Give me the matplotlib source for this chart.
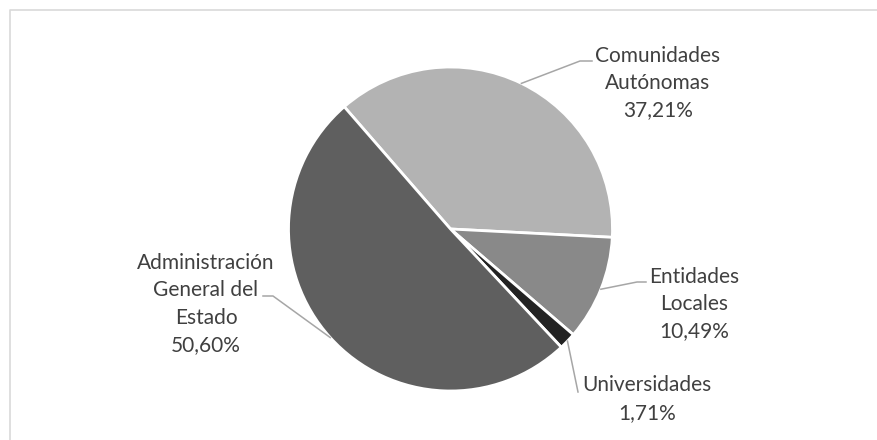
import numpy as np
import matplotlib.pyplot as plt

labels = ['Comunidades\nAutónomas', 'Entidades\nLocales', 'Universidades', 'Administración\nGeneral del\nEstado']
values = [37.21, 10.49, 1.71, 50.60]
pct_text = ['37,21%', '10,49%', '1,71%', '50,60%']
colors = ['#b3b3b3', '#898989', '#232323', '#5f5f5f']

H = 440
cx, cy, r = 450.5, H - 229, 162
start = 131

# elbow point, end of horizontal, text centre (pixel coords, y from top)
elbows = [(580, 61, 592), (637, 282, 646), (578, 392, 578), (273, 296, 263)]
text_pos = [(658, 83), (694, 304), (647, 399), (206, 304)]

fig = plt.figure(figsize=(8.78, 4.4), dpi=100)
ax = fig.add_axes([0, 0, 1, 1])

# frame
ax.plot([10, 10, 878], [0, H - 10, H - 10], color='#d9d9d9', lw=1.2)

wedges, _ = ax.pie(values, colors=colors, startangle=start, counterclock=False,
                   center=(cx, cy), radius=r, frame=True,
                   wedgeprops=dict(edgecolor='white', linewidth=2))
ax.set_xlim(0, 878)
ax.set_ylim(0, H)
ax.set_aspect('equal')
ax.axis('off')

for w, lab, pct, (ex, ey, hx), (tx, ty) in zip(wedges, labels, pct_text, elbows, text_pos):
    mid = np.deg2rad((w.theta1 + w.theta2) / 2)
    sx = cx + r * np.cos(mid)
    sy = cy + r * np.sin(mid)
    ax.plot([sx, ex, hx], [sy, H - ey, H - ey], color='#a6a6a6', lw=1.1)
    ax.text(tx, H - ty, lab + '\n' + pct, ha='center', va='center', ma='center',
            fontsize=15, family='Lato', color='#404040', linespacing=1.45)

fig.savefig('out.png', dpi=100)
